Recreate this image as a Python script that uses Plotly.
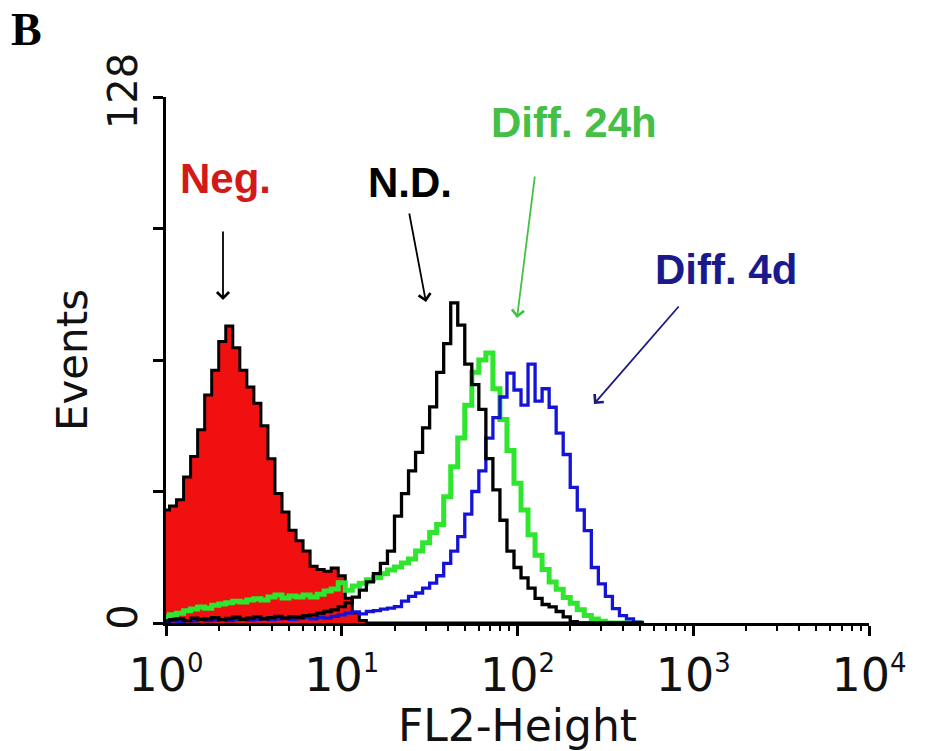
import plotly.graph_objects as go

# FL2 channel positions (log10 of FL2-Height), histogram bins
fl2_log = [0.00, 0.04, 0.08, 0.12, 0.16, 0.20, 0.24, 0.28, 0.32, 0.36,
           0.40, 0.44, 0.48, 0.52, 0.56, 0.60, 0.64, 0.68, 0.72, 0.76,
           0.80, 0.84, 0.88, 0.92, 0.96, 1.00, 1.04, 1.08, 1.12, 1.16,
           1.20, 1.24, 1.28, 1.32, 1.36, 1.40, 1.44, 1.48, 1.52, 1.56,
           1.60, 1.64, 1.68, 1.72, 1.76, 1.80, 1.84, 1.88, 1.92, 1.96,
           2.00, 2.04, 2.08, 2.12, 2.16, 2.20, 2.24, 2.28, 2.32, 2.36,
           2.40, 2.44, 2.48, 2.52, 2.56, 2.60, 2.64, 2.68, 2.72]

neg = [27.5, 28.5, 30.0, 35.5, 40.5, 47.0, 55.5, 61.5, 68.5, 72.3,
       67.0, 61.5, 57.4, 53.5, 48.0, 40.0, 31.5, 27.0, 22.6, 20.0,
       17.5, 13.8, 13.0, 12.6, 13.4, 11.5, 6.0, 2.5, 0.6, 0,
       0, 0, 0, 0, 0, 0, 0, 0, 0, 0,
       0, 0, 0, 0, 0, 0, 0, 0, 0, 0,
       0, 0, 0, 0, 0, 0, 0, 0, 0, 0,
       0, 0, 0, 0, 0, 0, 0, 0, 0]

nd = [0.5, 0.8, 1.0, 0.6, 1.2, 0.9, 1.0, 1.3, 0.8, 1.1,
      1.4, 0.9, 1.2, 1.5, 1.0, 1.3, 1.6, 1.2, 1.5, 1.4,
      1.8, 2.0, 2.4, 2.8, 3.2, 4.0, 4.9, 6.3, 8.0, 10.0,
      12.0, 14.5, 17.5, 26.0, 31.5, 37.0, 41.5, 47.5, 52.6, 61.0,
      68.0, 77.9, 72.5, 63.0, 58.0, 52.0, 40.0, 32.4, 25.0, 17.5,
      13.5, 11.0, 8.5, 6.0, 4.5, 3.9, 2.8, 1.5, 0.3, 0,
      0, 0, 0, 0, 0, 0, 0, 0, 0]

diff_24h = [1.5, 2.0, 2.4, 3.0, 3.4, 3.9, 3.6, 4.3, 4.6, 4.9,
            5.3, 5.1, 5.6, 5.9, 5.6, 6.3, 6.8, 6.1, 6.6, 6.3,
            6.8, 6.3, 7.0, 7.8, 8.3, 9.8, 8.0, 9.0, 9.7, 10.5,
            11.0, 12.0, 12.9, 13.6, 14.6, 15.6, 17.5, 19.5, 22.0, 24.0,
            30.7, 38.0, 45.0, 53.0, 61.0, 64.0, 65.7, 57.0, 49.5, 42.0,
            34.0, 27.5, 21.5, 16.5, 13.0, 10.0, 8.2, 6.2, 4.8, 3.2,
            1.8, 1.0, 0.4, 0, 0, 0, 0, 0, 0]

diff_4d = [0.3, 0.5, 0.4, 0.6, 0.5, 0.8, 0.6, 0.7, 0.9, 0.6,
           0.8, 1.0, 0.7, 0.9, 1.1, 0.8, 1.0, 1.2, 0.9, 1.1,
           1.3, 1.0, 1.4, 1.2, 1.6, 2.0, 2.4, 2.7, 2.2, 2.8,
           3.0, 3.4, 3.6, 4.0, 5.3, 6.5, 7.3, 8.5, 9.7, 11.5,
           14.5, 17.5, 21.0, 26.5, 32.0, 37.0, 45.0, 50.0, 55.0, 60.8,
           56.7, 53.0, 63.0, 54.0, 57.0, 52.5, 46.2, 41.0, 33.0, 27.5,
           22.5, 13.5, 9.5, 6.5, 3.5, 1.8, 1.0, 0.2, 0]

x_tickvals = [1, 10, 100, 1000, 10000]
x_exponents = ["0", "1", "2", "3", "4"]
y_tickvals = [0, 32, 64, 96, 128]
y_ticktext = ["0", "", "", "", "128"]

x_ticktext = ["10<sup><span style='font-size:26px'>%s</span></sup>" % e
              for e in x_exponents]

fl2 = [10 ** v for v in fl2_log]

fig = go.Figure()
fig.add_trace(go.Scatter(x=fl2, y=neg, mode="lines", line_shape="hvh",
                         line=dict(color="black", width=3),
                         fill="tozeroy", fillcolor="#f01010", name="Neg."))
fig.add_trace(go.Scatter(x=fl2, y=diff_24h, mode="lines", line_shape="hvh",
                         line=dict(color="#2ee62e", width=5), name="Diff. 24h"))
fig.add_trace(go.Scatter(x=fl2, y=diff_4d, mode="lines", line_shape="hvh",
                         line=dict(color="#1414d8", width=3.3), name="Diff. 4d"))
fig.add_trace(go.Scatter(x=fl2, y=nd, mode="lines", line_shape="hvh",
                         line=dict(color="black", width=3.3), name="N.D."))

W, H = 927, 751
L, R, T, B = 166, 58, 97, 128
pw, ph = W - L - R, H - T - B


def px(x):
    return (x - L) / pw


def py(y):
    return (H - B - y) / ph


ann_font = "Liberation Sans, Arial, sans-serif"
labels = [
    ("Neg.", 225, 178, "#d21a1a"),
    ("N.D.", 410, 182, "black"),
    ("Diff. 24h", 574, 123, "#45bf45"),
    ("Diff. 4d", 726, 269, "#1a1a8c"),
]
for text, x, y, col in labels:
    fig.add_annotation(x=px(x), y=py(y), xref="paper", yref="paper",
                       text="<b>%s</b>" % text, showarrow=False,
                       xanchor="center", yanchor="middle",
                       font=dict(family=ann_font, size=42, color=col))

arrows = [
    (223, 300, 0, -70, "black"),
    (426, 302, -17, -90, "black"),
    (517, 318, 18, -143, "#45bf45"),
    (594, 404, 86, -99, "#1a1a80"),
]
for x, y, ax, ay, col in arrows:
    fig.add_annotation(x=px(x), y=py(y), xref="paper", yref="paper",
                       text="", showarrow=True, ax=ax, ay=ay,
                       arrowhead=4, arrowsize=1.3, arrowwidth=1.8,
                       arrowcolor=col)

fig.add_annotation(x=px(26), y=py(29), xref="paper", yref="paper",
                   text="<b>B</b>", showarrow=False, xanchor="center",
                   yanchor="middle",
                   font=dict(family="Liberation Serif, Times New Roman, serif",
                             size=46, color="black"))

fig.update_layout(
    width=W, height=H,
    margin=dict(l=L, r=R, t=T, b=B, pad=0),
    paper_bgcolor="white", plot_bgcolor="white",
    showlegend=False,
    xaxis=dict(type="log", range=[0, 4], showgrid=False, zeroline=False,
               automargin=False,
               showline=True, linecolor="black", linewidth=3,
               ticks="outside", ticklen=10, tickwidth=2.5, tickcolor="black",
               tickvals=x_tickvals, ticktext=x_ticktext,
               tickfont=dict(family="DejaVu Sans", size=46, color="#111"),
               minor=dict(ticks="outside", ticklen=5, tickwidth=2,
                          tickcolor="black", dtick="D1", showgrid=False),
               title=dict(text="FL2-Height", standoff=10,
                          font=dict(family="DejaVu Sans", size=44, color="#111"))),
    yaxis=dict(range=[0, 128], showgrid=False, zeroline=False,
               automargin=False,
               showline=True, linecolor="black", linewidth=3,
               ticks="outside", ticklen=10, tickwidth=2.5, tickcolor="black",
               tickvals=y_tickvals, ticktext=y_ticktext, tickangle=-90,
               tickfont=dict(family="DejaVu Sans", size=40, color="#111"),
               title=dict(text="Events", standoff=0,
                          font=dict(family="DejaVu Sans", size=42, color="#111"))),
)

fig.write_html("out.html")
